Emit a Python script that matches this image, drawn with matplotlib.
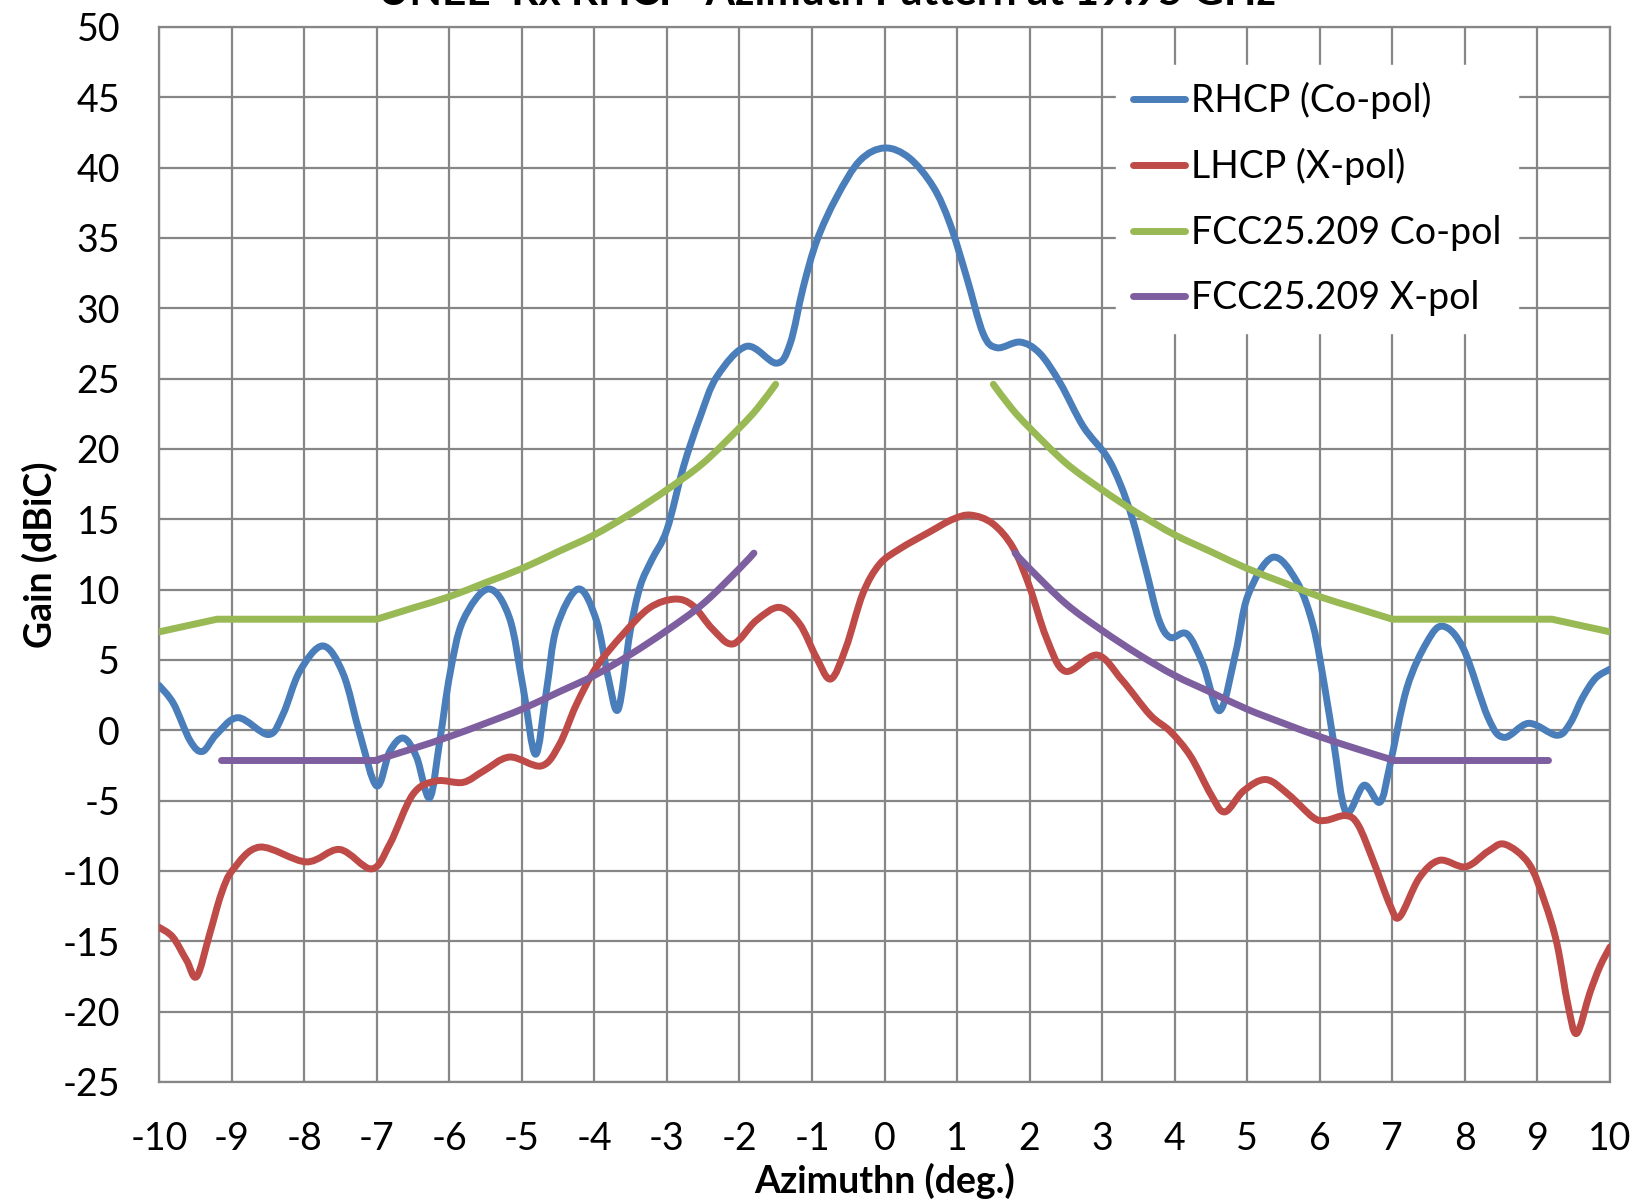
#!/usr/bin/env python3
"""Rx RHCP azimuth pattern vs. FCC 25.209 masks (Excel-style smoothed lines)."""

import matplotlib

matplotlib.use("Agg")
import matplotlib.pyplot as plt
import numpy as np
from matplotlib.lines import Line2D
from matplotlib.patches import PathPatch
from matplotlib.path import Path

plt.rcParams["font.family"] = ["Lato", "DejaVu Sans"]
plt.rcParams["axes.unicode_minus"] = False

rhcp_az = [-10.0, -9.8, -9.57, -9.4, -9.21, -8.91, -8.49, -8.29, -8.06, -7.74,
           -7.46, -7.23, -7.0, -6.82, -6.63, -6.45, -6.27, -6.13, -5.99, -5.81,
           -5.46, -5.17, -4.98, -4.81, -4.66, -4.52, -4.22, -3.97, -3.81, -3.67,
           -3.51, -3.37, -3.21, -3.0, -2.77, -2.54, -2.31, -1.9, -1.49, -1.3,
           -1.12, -0.93, -0.66, -0.34, 0.0, 0.34, 0.67, 0.9, 1.13, 1.36,
           1.55, 1.87, 2.14, 2.42, 2.74, 3.06, 3.25, 3.42, 3.6, 3.78,
           3.94, 4.17, 4.39, 4.62, 4.84, 5.01, 5.35, 5.68, 5.91, 6.07,
           6.19, 6.36, 6.61, 6.83, 6.97, 7.2, 7.48, 7.7, 7.98, 8.32,
           8.54, 8.88, 9.27, 9.45, 9.62, 9.8, 10.0]
rhcp_gain = [3.2, 1.9, -0.75, -1.5, -0.3, 0.9, -0.3, 1.15, 4.2, 6.0,
             4.0, -0.3, -3.95, -1.5, -0.55, -1.9, -4.8, -0.75, 4.0, 7.8,
             10.05, 8.0, 3.0, -1.7, 2.8, 7.3, 10.05, 7.8, 3.8, 1.5,
             6.9, 10.2, 12.1, 14.25, 18.75, 22.3, 25.15, 27.3, 26.1, 27.5,
             31.5, 34.85, 37.9, 40.5, 41.4, 40.7, 38.65, 36.05, 32.25, 28.2,
             27.2, 27.6, 26.8, 24.7, 21.6, 19.5, 17.5, 15.0, 11.5, 7.9,
             6.6, 6.85, 4.7, 1.4, 5.5, 9.6, 12.3, 10.6, 7.4, 3.0,
             -0.8, -5.8, -3.9, -5.1, -2.4, 3.0, 6.3, 7.4, 5.8, 0.9,
             -0.5, 0.5, -0.35, 0.5, 2.3, 3.7, 4.35]

# Measured cross-pol (LHCP)
lhcp_az = [-10.0, -9.81, -9.62, -9.48, -9.3, -9.14, -8.98, -8.61, -7.97, -7.51,
           -7.07, -6.82, -6.5, -6.18, -5.81, -5.53, -5.17, -4.73, -4.48, -4.25,
           -3.97, -3.61, -3.24, -2.89, -2.64, -2.37, -2.09, -1.77, -1.45, -1.17,
           -0.94, -0.74, -0.53, -0.3, -0.07, 0.21, 0.62, 0.94, 1.19, 1.49,
           1.77, 2.0, 2.23, 2.49, 2.93, 3.27, 3.66, 3.94, 4.22, 4.5,
           4.69, 4.95, 5.26, 5.57, 5.91, 6.08, 6.36, 6.53, 6.75, 6.97,
           7.1, 7.37, 7.65, 8.01, 8.32, 8.55, 8.88, 9.1, 9.27, 9.42,
           9.54, 9.72, 9.86, 10.0]
lhcp_gain = [-14.0, -14.7, -16.35, -17.5, -14.45, -11.6, -9.9, -8.3, -9.35, -8.47,
             -9.85, -8.1, -4.55, -3.6, -3.7, -2.9, -1.9, -2.53, -1.0, 1.8,
             4.5, 6.8, 8.7, 9.33, 8.86, 7.2, 6.14, 7.8, 8.74, 7.56,
             5.19, 3.65, 5.9, 9.7, 11.8, 12.9, 14.1, 15.0, 15.3, 14.7,
             13.0, 10.2, 6.6, 4.2, 5.35, 3.6, 1.1, -0.08, -1.85, -4.57,
             -5.8, -4.3, -3.5, -4.57, -6.2, -6.4, -6.06, -6.74, -9.46, -12.45,
             -13.26, -10.5, -9.24, -9.7, -8.6, -8.1, -9.46, -12.2, -15.2, -19.5,
             -21.55, -18.7, -16.8, -15.4]

# FCC 25.209 co-pol mask, left and right branches
fcc_co_az_l = [-10.0, -9.2, -7.0, -6.5, -6.0, -5.5, -5.0, -4.5, -4.0, -3.5,
               -3.0, -2.5, -2.0, -1.75, -1.5]
fcc_co_gain_l = [7.0, 7.9, 7.9, 8.7, 9.5, 10.5, 11.5, 12.7, 13.9, 15.4,
                 17.1, 19.0, 21.5, 22.9, 24.6]
fcc_co_az_r = [1.5, 1.75, 2.0, 2.5, 3.0, 3.5, 4.0, 4.5, 5.0, 5.5,
               6.0, 6.5, 7.0, 9.2, 10.0]
fcc_co_gain_r = [24.6, 22.9, 21.5, 19.0, 17.1, 15.4, 13.9, 12.7, 11.5, 10.5,
                 9.5, 8.7, 7.9, 7.9, 7.0]

# FCC 25.209 cross-pol mask
fcc_x_az_l = [-9.15, -7.0, -6.5, -6.0, -5.5, -5.0, -4.5, -4.0, -3.5, -3.0,
              -2.5, -2.0, -1.8]
fcc_x_gain_l = [-2.1, -2.1, -1.3, -0.45, 0.5, 1.5, 2.7, 3.9, 5.4, 7.1,
                9.0, 11.5, 12.6]
fcc_x_az_r = [1.8, 2.0, 2.5, 3.0, 3.5, 4.0, 4.5, 5.0, 5.5, 6.0,
              6.5, 7.0, 9.15]
fcc_x_gain_r = [12.6, 11.5, 9.0, 7.1, 5.4, 3.9, 2.7, 1.5, 0.5, -0.45,
                -1.3, -2.1, -2.1]

BLUE = "#4A7EBB"
RED = "#BE4B48"
GREEN = "#98B954"
PURPLE = "#7D5FA0"
GRID = "#868686"
LW = 5.0


def smooth_path(x, y):
    """Excel-like smoothed line: cubic Bezier through every point."""
    pts = np.column_stack([x, y]).astype(float)
    n = len(pts)
    verts, codes = [pts[0]], [Path.MOVETO]
    for i in range(n - 1):
        p0, p1 = pts[max(i - 1, 0)], pts[i]
        p2, p3 = pts[i + 1], pts[min(i + 2, n - 1)]
        verts += [p1 + (p2 - p0) / 6, p2 - (p3 - p1) / 6, p2]
        codes += [Path.CURVE4] * 3
    return Path(verts, codes)


def add_curve(ax, x, y, color, z):
    ax.add_patch(PathPatch(smooth_path(x, y), fill=False, edgecolor=color,
                           linewidth=LW, capstyle="round", joinstyle="round",
                           zorder=z))


def add_straight(ax, x, y, color, z):
    ax.plot(x, y, color=color, lw=LW, solid_capstyle="round",
            solid_joinstyle="round", zorder=z)


fig = plt.figure(figsize=(16.39, 12.04), dpi=100)
ax = fig.add_axes([159 / 1639, 1 - 1082 / 1204, 1451 / 1639, 1055 / 1204])

add_curve(ax, rhcp_az, rhcp_gain, BLUE, 3)
add_curve(ax, lhcp_az, lhcp_gain, RED, 4)

# masks: flat / sloped pieces are straight, the log part is smoothed
add_straight(ax, fcc_co_az_l[:3], fcc_co_gain_l[:3], GREEN, 5)
add_curve(ax, fcc_co_az_l[2:], fcc_co_gain_l[2:], GREEN, 5)
add_curve(ax, fcc_co_az_r[:-2], fcc_co_gain_r[:-2], GREEN, 5)
add_straight(ax, fcc_co_az_r[-3:], fcc_co_gain_r[-3:], GREEN, 5)
add_straight(ax, fcc_x_az_l[:2], fcc_x_gain_l[:2], PURPLE, 6)
add_curve(ax, fcc_x_az_l[1:], fcc_x_gain_l[1:], PURPLE, 6)
add_curve(ax, fcc_x_az_r[:-1], fcc_x_gain_r[:-1], PURPLE, 6)
add_straight(ax, fcc_x_az_r[-2:], fcc_x_gain_r[-2:], PURPLE, 6)

ax.set_xlim(-10, 10)
ax.set_ylim(-25, 50)
ax.set_xticks(np.arange(-10, 11, 1))
ax.set_yticks(np.arange(-25, 51, 5))
ax.grid(True, color=GRID, linewidth=1.6, zorder=0)
ax.set_axisbelow(True)
for sp in ax.spines.values():
    sp.set_color(GRID)
    sp.set_linewidth(1.6)
ax.tick_params(length=0, labelsize=27)
ax.tick_params(axis="x", pad=28)
ax.tick_params(axis="y", pad=28)

ax.set_xlabel("Azimuthn (deg.)", fontsize=27, fontweight="bold", labelpad=4)
ax.set_ylabel("Gain (dBiC)", fontsize=27, fontweight="bold", labelpad=3)

handles = [Line2D([], [], color=c, lw=LW, solid_capstyle="round")
           for c in (BLUE, RED, GREEN, PURPLE)]
labels = ["RHCP (Co-pol)", "LHCP (X-pol)", "FCC25.209 Co-pol", "FCC25.209 X-pol"]
leg = ax.legend(handles, labels, loc="upper left", bbox_to_anchor=(0.6595, 0.964),
                borderaxespad=0, fontsize=27, frameon=True, fancybox=False,
                framealpha=1, edgecolor="white", handlelength=1.4,
                handletextpad=0.15, labelspacing=0.78, borderpad=0.45)
leg.set_zorder(10)

fig.text(827 / 1639, 1 - 5 / 1204, "UNEE  Rx RHCP  Azimuth Pattern at 19.95 GHz",
         ha="center", va="baseline", fontsize=30.5, fontweight="bold")

fig.savefig("out.png", dpi=100)
